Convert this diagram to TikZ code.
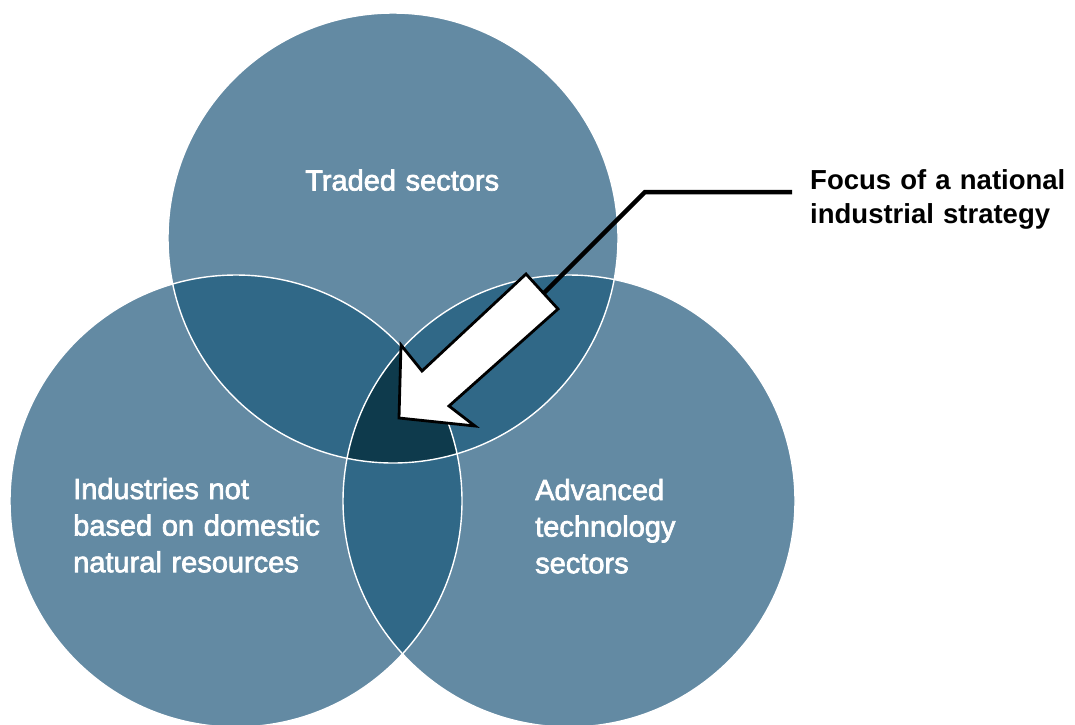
\documentclass[tikz,border=0pt]{standalone}
\usepackage{fontspec}
\setmainfont{Liberation Sans}
\newfontfamily\labelfont[FakeBold=2.4]{Liberation Sans}
\newfontfamily\focusfont{Liberation Sans Bold}
\definecolor{vlight}{HTML}{638AA3}
\definecolor{vmid}{HTML}{306887}
\definecolor{vdark}{HTML}{0E3A4C}
\begin{document}
\begin{tikzpicture}[x=1pt,y=-1pt,
  lbl/.style={text=white, font=\labelfont\fontsize{29}{36.6}\selectfont,
    text width=330pt, align=left, anchor=base west, inner sep=0pt},
  focuslbl/.style={text=black, font=\focusfont\fontsize{27.5}{34.5}\selectfont,
    text width=270pt, align=left, anchor=base west, inner sep=0pt},
  outline/.style={draw=white, line width=1.4pt},
  bigarrow/.style={draw=black, fill=white, line width=2.8pt, line join=miter},
  leader/.style={draw=black, line width=4.5pt}]
\useasboundingbox (0,0) rectangle (1075,724);
\coordinate (C1) at (393,238);
\coordinate (C2) at (236,501);
\coordinate (C3) at (569,501);
% base circles
\fill[vlight] (C1) circle (225pt);
\fill[vlight] (C2) circle (226pt);
\fill[vlight] (C3) circle (226pt);
% pairwise overlaps
\begin{scope}
  \clip (C1) circle (225pt);
  \fill[vmid] (C2) circle (226pt);
  \fill[vmid] (C3) circle (226pt);
\end{scope}
\begin{scope}
  \clip (C2) circle (226pt);
  \fill[vmid] (C3) circle (226pt);
\end{scope}
% triple overlap
\begin{scope}
  \clip (C1) circle (225pt);
  \clip (C2) circle (226pt);
  \fill[vdark] (C3) circle (226pt);
\end{scope}
% white outlines
\draw[outline] (C1) circle (225pt);
\draw[outline] (C2) circle (226pt);
\draw[outline] (C3) circle (226pt);
% labels
\node[lbl] (traded) at (305,190.5) {Traded sectors};
\node[lbl] (industries) at (73,499) {Industries not\\based on domestic\\natural resources};
\node[lbl] (advanced) at (535,500) {Advanced\\technology\\sectors};
\node[focuslbl] (focus) at (810,189) {Focus of a national\\industrial strategy};
% leader line
\coordinate (lead) at (543,294);
\coordinate (bend) at (645,192);
\coordinate (leadend) at (792,192);
\draw[leader] (lead) -- (bend) -- (leadend);
% big arrow
\draw[bigarrow] (399,418) -- (401,345) -- (422,371) -- (526,274) -- (558,309)
  -- (449,406) -- (475,426) -- cycle;
\end{tikzpicture}
\end{document}
